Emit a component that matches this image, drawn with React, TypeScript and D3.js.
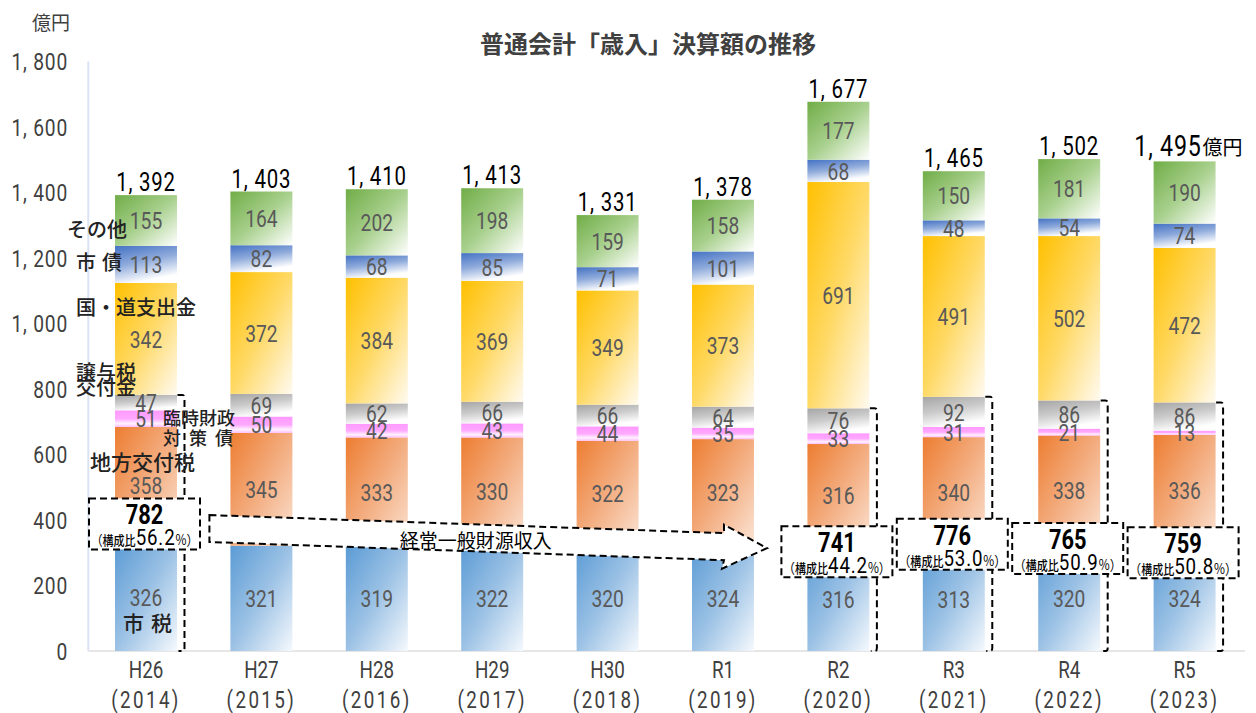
import React from "react";
import * as d3 from "d3";

// ---------- data (億円) ----------
const years = ["H26", "H27", "H28", "H29", "H30", "R1", "R2", "R3", "R4", "R5"];
const yearsAD = ["2014", "2015", "2016", "2017", "2018", "2019", "2020", "2021", "2022", "2023"];
const shizei = [326, 321, 319, 322, 320, 324, 316, 313, 320, 324]; // 市税
const chihoKofuzei = [358, 345, 333, 330, 322, 323, 316, 340, 338, 336]; // 地方交付税
const rinzaiSai = [51, 50, 42, 43, 44, 35, 33, 31, 21, 13]; // 臨時財政対策債
const joyozei = [47, 69, 62, 66, 66, 64, 76, 92, 86, 86]; // 譲与税交付金
const kokuDoShishutsu = [342, 372, 384, 369, 349, 373, 691, 491, 502, 472]; // 国・道支出金
const shisai = [113, 82, 68, 85, 71, 101, 68, 48, 54, 74]; // 市債
const sonota = [155, 164, 202, 198, 159, 158, 177, 150, 181, 190]; // その他
const yTicks = [0, 200, 400, 600, 800, 1000, 1200, 1400, 1600, 1800];
const boxedYears = ["H26", "R2", "R3", "R4", "R5"];
const boxCenterValues = [388, 303, 326, 313, 300]; // annotation box vertical centre (億円 units)

const seriesKeys = ["shizei", "chiho", "rinzai", "joyo", "kokudo", "shisai", "sonota"];
const seriesValues: Record<string, number[]> = {
  shizei,
  chiho: chihoKofuzei,
  rinzai: rinzaiSai,
  joyo: joyozei,
  kokudo: kokuDoShishutsu,
  shisai,
  sonota,
};

const gradients: Record<string, { x2: number; y2: number; stops: [number, string][] }> = {
  shizei: { x2: 1, y2: 1, stops: [[0, "#5b9bd5"], [0.5, "#9cc2e5"], [1, "#f5f9fd"]] },
  chiho: { x2: 1, y2: 1, stops: [[0, "#ed7d31"], [0.5, "#f3ad80"], [1, "#fbe4d5"]] },
  rinzai: { x2: 0, y2: 1, stops: [[0, "#ff99ff"], [0.5, "#ffa8ff"], [0.8, "#fff2ff"], [1, "#ffbdff"]] },
  joyo: { x2: 0.35, y2: 1, stops: [[0, "#a5a5a5"], [0.5, "#cacaca"], [1, "#ffffff"]] },
  kokudo: { x2: 1, y2: 1, stops: [[0, "#ffc000"], [0.5, "#ffd966"], [1, "#fffaf0"]] },
  shisai: { x2: 0.35, y2: 1, stops: [[0, "#4472c4"], [0.5, "#8eaadb"], [1, "#ffffff"]] },
  sonota: { x2: 1, y2: 1, stops: [[0, "#70ad47"], [0.5, "#a8d08d"], [1, "#ffffff"]] },
};

const NUMF = "Roboto, 'Noto Sans', sans-serif";
const CJK = "'Noto Sans CJK JP', 'Noto Sans', sans-serif";

const fmt = (v: number) => d3.format(",")(v).replace(",", ", ");

// condensed text: horizontally squeezed
function NText(props: {
  x: number;
  y: number;
  size: number;
  anchor?: string;
  weight?: number;
  fill?: string;
  dy?: string;
  sx?: number;
  ls?: number;
  children: React.ReactNode;
}) {
  const { x, y, size, anchor = "middle", weight = 400, fill = "#000", dy, sx = 0.8, ls } = props;
  return (
    <text
      transform={`translate(${x},${y}) scale(${sx},1)`}
      dy={dy}
      textAnchor={anchor}
      fontFamily={NUMF}
      fontSize={size}
      fontWeight={weight}
      fill={fill}
      letterSpacing={ls}
      style={{ whiteSpace: "pre" }}
    >
      {props.children}
    </text>
  );
}

export default function App() {
  const W = 1256;
  const H = 713;
  const x = d3
    .scaleBand<string>()
    .domain(years)
    .range([88.3, 1242.3])
    .paddingInner(0.463)
    .paddingOuter(0.2315);
  const bw = x.bandwidth();
  const y = d3.scaleLinear().domain([0, 1800]).range([651, 61.5]);

  const rows = years.map((yr, i) => {
    const r: any = { year: yr };
    seriesKeys.forEach((k) => (r[k] = seriesValues[k][i]));
    return r;
  });
  const stacked = d3.stack<any>().keys(seriesKeys)(rows);
  const totals = rows.map((r) => seriesKeys.reduce((s, k) => s + r[k], 0));
  const general = years.map((_, i) => shizei[i] + chihoKofuzei[i] + rinzaiSai[i] + joyozei[i]);

  // arrow annotation geometry
  const xs = (x("H27") as number) - 21;
  const xtip = (x("R1") as number) + bw + 13;
  const xsh = xtip - 43;
  const yA = y(374);
  const yB = y(314);
  const cl = (px: number) => yA + ((yB - yA) * (px - xs)) / (xtip - xs);
  const half = 13.5;
  const headHalf = 22;
  const arrowPath = [
    [xs, cl(xs) - half],
    [xsh, cl(xsh) - half],
    [xsh, cl(xsh) - headHalf],
    [xtip, cl(xtip)],
    [xsh - 2, cl(xsh) + headHalf],
    [xsh, cl(xsh) + half],
    [xs, cl(xs) + half],
  ];
  const arrowD = "M" + arrowPath.map((p) => p.join(",")).join("L") + "Z";
  const arrowTextX = (xs + xsh) / 2 + 9;

  const x0 = x("H26") as number;
  const legendLabels: { lines: string[]; dx: number; v: number[]; size: number; len?: number }[] = [
    { lines: ["その他"], dx: -48, v: [1285], size: 20 },
    { lines: ["市 債"], dx: -39, v: [1185], size: 20, len: 46 },
    { lines: ["国・道支出金"], dx: -39, v: [1047], size: 20 },
    { lines: ["譲与税", "交付金"], dx: -39, v: [849, 803], size: 20 },
    { lines: ["臨時財政", "対 策 債"], dx: 48, v: [711, 650], size: 18, len: 70 },
    { lines: ["地方交付税"], dx: -25, v: [577], size: 21 },
    { lines: ["市 税"], dx: 8, v: [85], size: 21, len: 49 },
  ];

  const dash = "7 4";

  return (
    <div style={{ position: "absolute", left: 0, top: 0 }}>
      <svg width={W} height={H} style={{ display: "block", background: "#fff" }}>
        <defs>
          {seriesKeys.map((k) => (
            <linearGradient key={k} id={`g-${k}`} x1="0" y1="0" x2={gradients[k].x2} y2={gradients[k].y2}>
              {gradients[k].stops.map(([o, c], j) => (
                <stop key={j} offset={o} stopColor={c} />
              ))}
            </linearGradient>
          ))}
        </defs>

        {/* title */}
        <text x={648} y={53} textAnchor="middle" fontFamily={CJK} fontSize={24} fontWeight={700} fill="#404040">
          普通会計「歳入」決算額の推移
        </text>
        <text x={51} y={30} textAnchor="middle" fontFamily={CJK} fontSize={19} fill="#404040">
          億円
        </text>

        {/* axes */}
        <line x1={88.3} x2={88.3} y1={y(1800)} y2={y(0)} stroke="#dae3f3" strokeWidth={2} />
        <line x1={88.3} x2={1245} y1={y(0)} y2={y(0)} stroke="#e6e6e6" strokeWidth={2} />
        {yTicks.map((t) => (
          <NText key={t} x={68} y={y(t)} dy="0.36em" anchor="end" size={24} fill="#404040" ls={1}>
            {fmt(t)}
          </NText>
        ))}
        {years.map((yr, i) => (
          <g key={yr}>
            <NText x={(x(yr) as number) + bw / 2} y={678} size={23.5} fill="#404040">
              {yr}
            </NText>
            <NText x={(x(yr) as number) + bw / 2} y={708} size={23.5} fill="#404040" ls={3}>
              {`(${yearsAD[i]})`}
            </NText>
          </g>
        ))}

        {/* bars */}
        {stacked.map((s) => (
          <g key={s.key}>
            {s.map((d, i) => (
              <rect
                key={i}
                x={x(years[i])}
                y={y(d[1])}
                width={bw}
                height={y(d[0]) - y(d[1])}
                fill={`url(#g-${s.key})`}
              />
            ))}
          </g>
        ))}
        {stacked.map((s) => (
          <g key={"l" + s.key}>
            {s.map((d, i) => (
              <NText
                key={i}
                x={(x(years[i]) as number) + bw / 2}
                y={(y(d[0]) + y(d[1])) / 2}
                dy="0.36em"
                size={24}
                fill="#595959"
              >
                {d[1] - d[0]}
              </NText>
            ))}
          </g>
        ))}

        {/* totals */}
        {years.map((yr, i) =>
          i === years.length - 1 ? (
            <g key={yr}>
              <NText x={(x(yr) as number) + bw / 2 + 17} y={y(totals[i]) - 5} anchor="end" size={29} ls={1}>
                {fmt(totals[i])}
              </NText>
              <text
                x={(x(yr) as number) + bw / 2 + 18}
                y={y(totals[i]) - 6}
                fontFamily={CJK}
                fontSize={20}
                fill="#000"
              >
                億円
              </text>
            </g>
          ) : (
            <NText key={yr} x={(x(yr) as number) + bw / 2} y={y(totals[i]) - 4} size={25.5} ls={1}>
              {fmt(totals[i])}
            </NText>
          )
        )}

        {/* brackets for 経常一般財源 */}
        {boxedYears.map((yr) => {
          const i = years.indexOf(yr);
          const bx = (x(yr) as number) + bw + 7.5;
          const yt = y(general[i]);
          const yb = y(0);
          return (
            <path
              key={"br" + yr}
              d={`M${bx - 7},${yt} L${bx - 2},${yt} Q${bx},${yt} ${bx},${yt + 3} L${bx},${yb - 3} Q${bx},${yb} ${bx - 2},${yb} L${bx - 6},${yb}`}
              fill="none"
              stroke="#000"
              strokeWidth={2}
              strokeDasharray={dash}
            />
          );
        })}

        {/* arrow */}
        <path d={arrowD} fill="#fff" stroke="#000" strokeWidth={2} strokeDasharray={dash} />
        <text x={arrowTextX} y={cl(arrowTextX) + 3} dy="0.36em" textAnchor="middle" fontFamily={CJK} fontSize={19} fill="#000">
          経常一般財源収入
        </text>

        {/* boxes */}
        {boxedYears.map((yr, j) => {
          const i = years.indexOf(yr);
          const cx = (x(yr) as number) + bw / 2 - 1.5;
          const top = y(boxCenterValues[j]) - 25.5;
          const ratio = ((general[i] / totals[i]) * 100).toFixed(1);
          return (
            <g key={"bx" + yr}>
              <rect x={cx - 55.5} y={top} width={111} height={51} fill="#fff" stroke="#000" strokeWidth={2} strokeDasharray={dash} />
              <NText x={cx} y={top + 26} size={28} weight={700} sx={0.78}>
                {general[i]}
              </NText>
              <text transform={`translate(${cx},${top + 47}) scale(0.85,1)`} textAnchor="middle" fill="#000">
                <tspan fontFamily={CJK} fontSize={14}>
                  （
                </tspan>
                <tspan fontFamily={CJK} fontSize={13} fontWeight={500}>
                  構成比
                </tspan>
                <tspan fontFamily={NUMF} fontSize={22} letterSpacing={1}>
                  {ratio}
                </tspan>
                <tspan fontFamily={CJK} fontSize={14}>
                  %）
                </tspan>
              </text>
            </g>
          );
        })}

        {/* series labels */}
        {legendLabels.map((l, k) => (
          <g key={"lg" + k}>
            {l.lines.map((ln, m) => (
              <text
                key={m}
                x={x0 + l.dx}
                y={y(l.v[m])}
                dy="0.36em"
                fontFamily={CJK}
                fontSize={l.size}
                fontWeight={500}
                fill="#222"
                textLength={l.len && ln.includes(" ") ? l.len : undefined}
                lengthAdjust="spacing"
                style={{ whiteSpace: "pre" }}
              >
                {ln}
              </text>
            ))}
          </g>
        ))}
      </svg>
    </div>
  );
}
